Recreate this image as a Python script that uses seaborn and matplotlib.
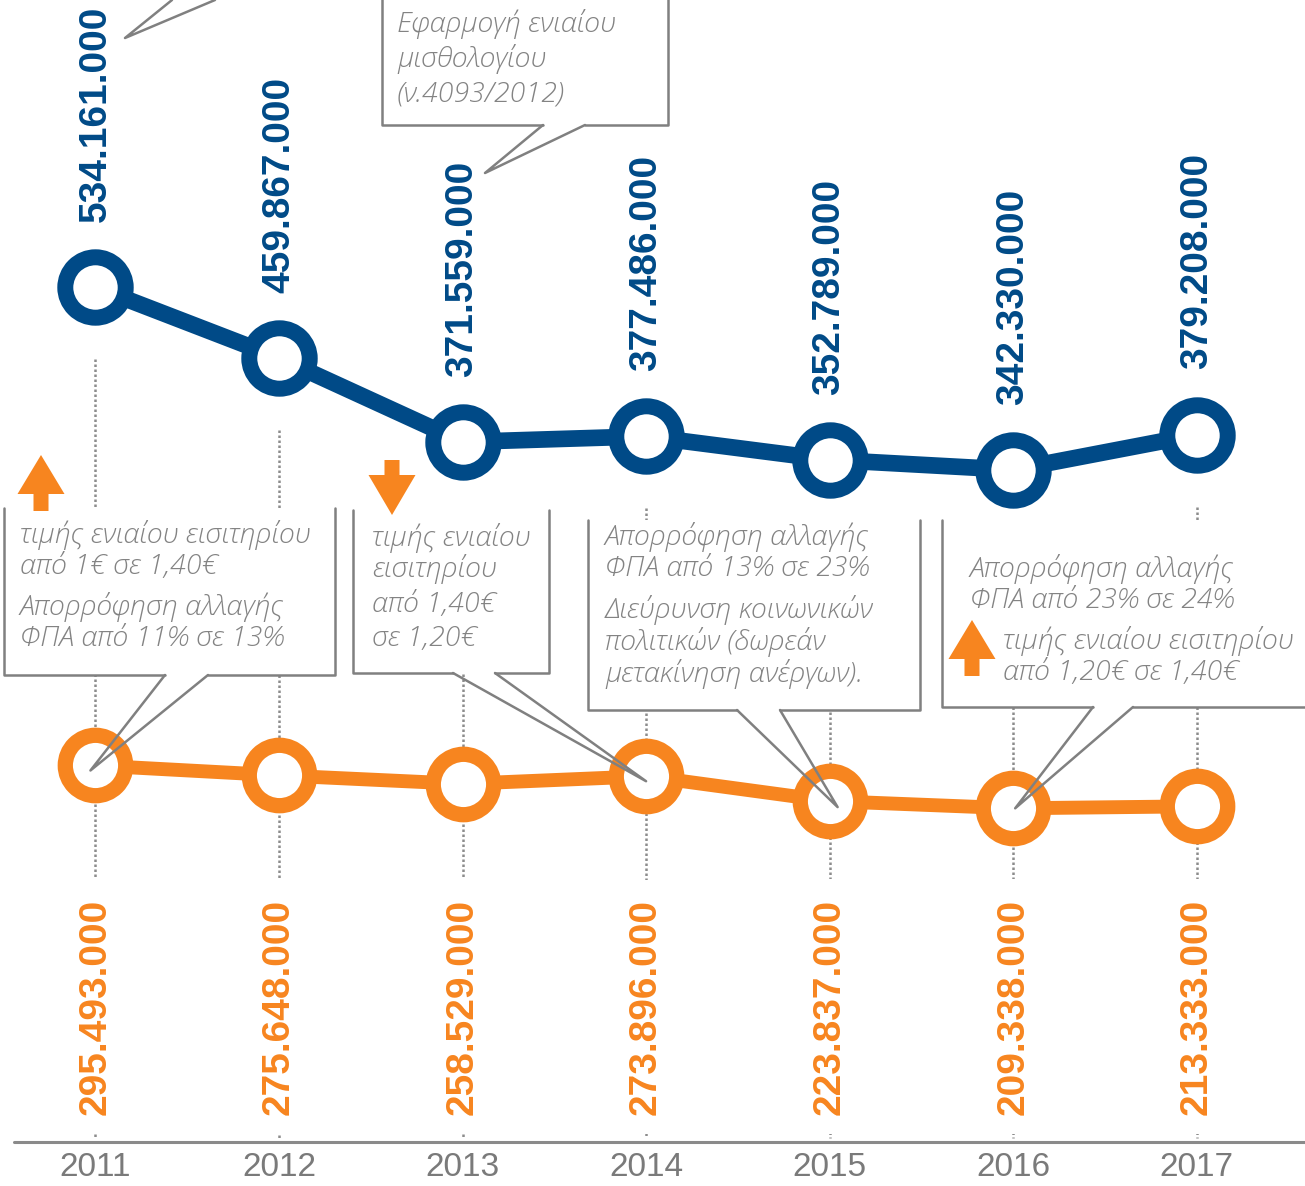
import matplotlib
matplotlib.use('Agg')
import matplotlib.pyplot as plt
import matplotlib.transforms as mtransforms
from matplotlib.patches import Rectangle, Polygon
import seaborn as sns

# Data
years = [2011, 2012, 2013, 2014, 2015, 2016, 2017]
blue_values = [534161000, 459867000, 371559000, 377486000, 352789000, 342330000, 379208000]
orange_values = [295493000, 275648000, 258529000, 273896000, 223837000, 209338000, 213333000]

top_note = ['Εφαρμογή ενιαίου', 'μισθολογίου', '(ν.4093/2012)']
note_2011 = ['τιμής ενιαίου εισιτηρίου', 'από 1€ σε 1,40€', 'Απορρόφηση αλλαγής', 'ΦΠΑ από 11% σε 13%']
note_2013 = ['τιμής ενιαίου', 'εισιτηρίου', 'από 1,40€', 'σε 1,20€']
note_2015 = ['Απορρόφηση αλλαγής', 'ΦΠΑ από 13% σε 23%', 'Διεύρυνση κοινωνικών',
             'πολιτικών (δωρεάν', 'μετακίνηση ανέργων).']
note_2016a = ['Απορρόφηση αλλαγής', 'ΦΠΑ από 23% σε 24%']
note_2016b = ['τιμής ενιαίου εισιτηρίου', 'από 1,20€ σε 1,40€']

BLUE = '#004a87'
ORANGE = '#f7851f'
GREY = '#838383'
LGREY = '#808080'

sns.set_theme(style='white')
plt.rcParams['font.family'] = ['Liberation Sans', 'DejaVu Sans']

W, H = 1305, 1186
fig = plt.figure(figsize=(W / 100, H / 100), dpi=100)

def pixel_axes(label):
    a = fig.add_axes([0, 0, 1, 1], label=label)
    a.set_xlim(0, W)
    a.set_ylim(H, 0)
    a.axis('off')
    return a

ax_bg = pixel_axes('bg')
ax_o = fig.add_axes([0, 0, 1, 1], label='orange')
ax_b = fig.add_axes([0, 0, 1, 1], label='blue')
ax_fg = pixel_axes('fg')

for a in (ax_o, ax_b):
    a.set_xlim(2010.48, 2017.59)
    a.axis('off')
ax_b.set_ylim(-410e6, 835.8e6)
ax_o.set_ylim(-550.6e6, 1835.7e6)

# series
sns.lineplot(x=years, y=orange_values, ax=ax_o, color=ORANGE, linewidth=10,
             marker='o', markersize=43.5, markeredgewidth=11,
             markerfacecolor='white', markeredgecolor=ORANGE)
sns.lineplot(x=years, y=blue_values, ax=ax_b, color=BLUE, linewidth=12,
             marker='o', markersize=43.5, markeredgewidth=11.5,
             markerfacecolor='white', markeredgecolor=BLUE)

def fmt(v):
    return f'{v:,}'.replace(',', '.')

def to_px(a, x, y):
    return ax_bg.transData.inverted().transform(a.transData.transform((x, y)))

blend = mtransforms.blended_transform_factory(ax_o.transData, ax_bg.transData)

# dotted guides, labels
for yr, bv, ov in zip(years, blue_values, orange_values):
    py = to_px(ax_b, yr, bv)[1]
    ax_bg.plot([yr, yr], [py + 72, 1138], transform=blend, color='#8c8c8c',
               lw=1.8, linestyle=(0, (1, 1)), zorder=1)
    ax_b.annotate(fmt(bv), (yr, bv), xytext=(0, 47), textcoords='offset points',
                  rotation=90, ha='center', va='bottom', fontsize=28,
                  fontweight='bold', color=BLUE)
    ax_bg.text(yr, 1115, fmt(ov), transform=blend, rotation=90, ha='center',
               va='bottom', fontsize=28, fontweight='bold', color=ORANGE, zorder=3,
               bbox=dict(fc='white', ec='none', pad=14))
    ax_bg.text(yr, 1168, str(yr), transform=blend, ha='center', va='center',
               fontsize=24, color='#7a7a7a',
               family=['Liberation Sans Narrow', 'Liberation Sans'])

ax_bg.plot([14, W], [1142, 1142], color='#8a8a8a', lw=2.2, zorder=2)

note_font = dict(family=['Open Sans', 'DejaVu Sans'], style='italic', weight='light',
                 color=GREY, fontsize=20.5, va='center', ha='left', zorder=6)

def box(left, right, top, bottom, g0, g1, tip):
    ax_bg.add_patch(Rectangle((left, top), right - left, bottom - top, fc='white',
                              ec='none', zorder=4))
    ax_bg.plot([left, left, g0], [top, bottom, bottom], color=LGREY, lw=1.8, zorder=5)
    ax_bg.plot([g1, right, right], [bottom, bottom, top], color=LGREY, lw=1.8, zorder=5)
    ax_fg.plot([g0, tip[0], g1], [bottom, tip[1], bottom], color=LGREY, lw=1.8)

def lines(x, ys, texts):
    for y, t in zip(ys, texts):
        ax_bg.text(x, y, t, **note_font)

def arrow(cx, tip, base, end):
    pts = [(cx, tip), (cx + 23.5, base), (cx + 7.5, base), (cx + 7.5, end),
           (cx - 7.5, end), (cx - 7.5, base), (cx - 23.5, base)]
    ax_fg.add_patch(Polygon(pts, closed=True, fc=ORANGE, ec='none'))

# partial box off the top-left
ax_fg.plot([172, 125, 215], [0, 38, 0], color=LGREY, lw=1.8)

# top box
box(382, 668, -5, 125, 543, 585, (485, 173))
lines(397, [24, 59, 94], top_note)

o = {yr: to_px(ax_o, yr, v) for yr, v in zip(years, orange_values)}

box(4, 335, 508, 675, 165, 208, (o[2011][0] - 5, o[2011][1] + 5))
lines(20, [535, 566, 607, 638], note_2011)
arrow(41, 455, 494, 511)

box(353, 549, 510, 673, 453, 495, (o[2014][0], o[2014][1] + 5))
lines(372, [538, 569, 604, 638], note_2013)
arrow(392, 515, 475, 460)

box(588, 920, 520, 710, 737, 780, (o[2015][0] + 8, o[2015][1] + 6))
lines(605, [537, 569, 610, 642, 674], note_2015)

box(942, 1320, 520, 707, 1093, 1133, (o[2016][0] + 2, o[2016][1]))
lines(970, [569, 601], note_2016a)
lines(1003, [641, 673], note_2016b)
arrow(972, 620, 659, 676)

fig.savefig('out.png', dpi=100)
